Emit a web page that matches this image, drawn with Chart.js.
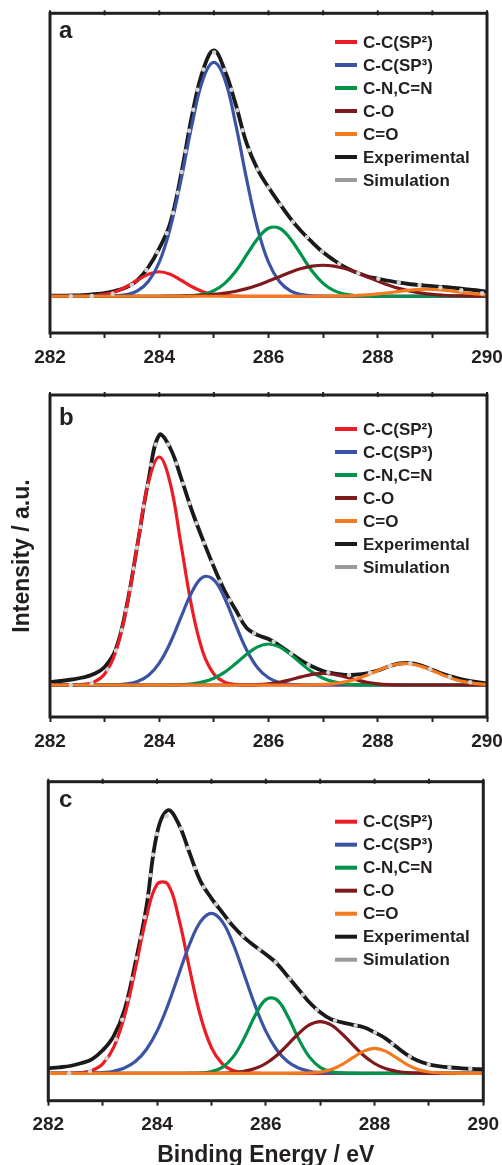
<!DOCTYPE html>
<html>
<head>
<meta charset="utf-8">
<script src="https://cdn.jsdelivr.net/npm/chart.js@4.4.0/dist/chart.umd.min.js"></script>
<style>
  html, body { margin: 0; padding: 0; background: #fff; overflow: hidden; }
  .panel { position: absolute; left: 0; width: 502px; }
</style>
</head>
<body>
<div class="panel" style="top:0;height:380px"><canvas id="chartA"></canvas></div>
<div class="panel" style="top:380px;height:380px"><canvas id="chartB"></canvas></div>
<div class="panel" style="top:760px;height:420px"><canvas id="chartC"></canvas></div>
<script>
// Binding energy (eV), shared by all three panels
const energy = [282.0, 282.2, 282.4, 282.6, 282.8, 283.0, 283.2, 283.4, 283.6, 283.8,
  284.0, 284.2, 284.4, 284.6, 284.8, 285.0, 285.2, 285.4, 285.6, 285.8,
  286.0, 286.2, 286.4, 286.6, 286.8, 287.0, 287.2, 287.4, 287.6, 287.8,
  288.0, 288.2, 288.4, 288.6, 288.8, 289.0, 289.2, 289.4, 289.6, 289.8, 290.0];

const xTicks = [282, 284, 286, 288, 290];
const xMinorTicks = [283, 285, 287, 289];

const seriesLabels = ['C-C(SP²)', 'C-C(SP³)', 'C-N,C=N', 'C-O', 'C=O', 'Experimental', 'Simulation'];

// Panel a (intensity, a.u.)
const aSP2 = [0, 0, 0, 0.1, 0.6, 1.8, 4.5, 9.5, 16, 22, 24.5, 22, 16, 9.5, 4.5, 1.8, 0.6, 0.1,
  0, 0, 0, 0, 0, 0, 0, 0, 0, 0, 0, 0, 0, 0, 0, 0, 0, 0, 0, 0, 0, 0, 0];
const aSP3 = [0, 0, 0, 0, 0, 0.1, 0.5, 1.7, 5.4, 14.7, 34, 68, 117, 172, 217, 234, 217, 172, 117, 68,
  34, 14.7, 5.4, 1.7, 0.5, 0.1, 0, 0, 0, 0, 0, 0, 0, 0, 0, 0, 0, 0, 0, 0, 0];
const aCN = [0, 0, 0, 0, 0, 0, 0, 0, 0, 0, 0, 0, 0.2, 0.6, 2.1, 5.6, 12.9, 25, 41.3, 57.6,
  68, 68, 57.6, 41.3, 25, 12.9, 5.6, 2.1, 0.6, 0.2, 0, 0, 0, 0, 0, 0, 0, 0, 0, 0, 0];
const aCO = [0, 0, 0, 0, 0, 0, 0, 0, 0, 0, 0, 0.1, 0.25, 0.5, 1.0, 1.8, 3.1, 5.0, 7.6, 11.1,
  15.2, 19.6, 24, 27.7, 30.1, 31, 30.1, 27.7, 24, 19.6, 15.2, 11.1, 7.6, 5.0, 3.1, 1.8, 1.0, 0.5, 0.25, 0.1, 0];
const aCdO = [0, 0, 0, 0, 0, 0, 0, 0, 0, 0, 0, 0, 0, 0, 0, 0, 0, 0, 0, 0,
  0, 0, 0, 0, 0, 0, 0.1, 0.3, 0.7, 1.3, 2.3, 3.5, 4.9, 6.2, 6.9, 6.9, 6.2, 4.9, 3.5, 2.3, 1.3];
const aExp = [0.5, 0.6, 0.8, 1.1, 2.0, 3.2, 5.5, 9, 16, 29, 48, 73, 122, 181, 226, 246, 226, 192, 153, 127,
  109, 93, 78, 65, 54, 44, 36, 29, 24, 20, 17.5, 15.5, 13.5, 12, 11, 10, 9.3, 8.3, 7.2, 6, 4.5];
const aSim = [0, 0, 0, 0, 0.3, 1, 3.5, 8, 16, 29, 48, 73, 122, 181, 226, 244, 226, 192, 153, 127,
  109, 93, 78, 65, 54, 44, 36, 29, 24, 20, 17.5, 15.5, 13.5, 12, 11, 9.5, 8.3, 7, 5.5, 3.8, 2.5];

// Panel b
const bSP2 = [0, 0, 0.1, 0.6, 2.9, 11, 32.8, 76.6, 140, 202, 228, 202, 140, 76.6, 32.8, 11, 2.9, 0.6, 0.1,
  0, 0, 0, 0, 0, 0, 0, 0, 0, 0, 0, 0, 0, 0, 0, 0, 0, 0, 0, 0, 0, 0];
const bSP3 = [0, 0, 0, 0, 0, 0, 0.3, 1.1, 3.5, 9.5, 21.8, 42, 68.1, 93.3, 107.9, 105.2, 86.5, 59.9, 35.1, 17.3,
  7.2, 2.5, 0.75, 0.2, 0, 0, 0, 0, 0, 0, 0, 0, 0, 0, 0, 0, 0, 0, 0, 0, 0];
const bCN = [0, 0, 0, 0, 0, 0, 0, 0, 0, 0, 0, 0.1, 0.4, 1.2, 3.1, 6.8, 12.9, 21.4, 30.7, 38.1,
  41, 38.1, 30.7, 21.4, 12.9, 6.8, 3.1, 1.2, 0.4, 0.1, 0, 0, 0, 0, 0, 0, 0, 0, 0, 0, 0];
const bCO = [0, 0, 0, 0, 0, 0, 0, 0, 0, 0, 0, 0, 0, 0, 0, 0, 0, 0, 0.1, 0.4,
  1.2, 2.7, 5.2, 8.1, 10.7, 11.7, 10.7, 8.1, 5.2, 2.7, 1.2, 0.4, 0.1, 0, 0, 0, 0, 0, 0, 0, 0];
const bCdO = [0, 0, 0, 0, 0, 0, 0, 0, 0, 0, 0, 0, 0, 0, 0, 0, 0, 0, 0, 0,
  0, 0, 0, 0, 0.2, 0.6, 1.4, 3.1, 5.8, 9.8, 14.4, 18.6, 21.2, 21.2, 18.6, 14.4, 9.8, 5.8, 3.1, 1.4, 0.6];
const bExp = [3, 4, 5.5, 7.5, 11, 18, 35, 78, 140, 204, 250, 237, 207, 174, 145, 118, 94, 75, 57, 50,
  46, 39.5, 32, 24.5, 18.5, 14, 11.5, 10, 10.3, 11.7, 14.5, 18.5, 21.5, 21.8, 19.5, 15.3, 11, 7.7, 5, 3, 1.7];
const bSim = [0, 0, 0.1, 0.6, 2.9, 11, 33, 77, 140, 204, 248, 237, 207, 174, 145, 118, 94, 75, 57, 50,
  46, 39.5, 32, 24.5, 18.5, 14, 11.5, 10, 10.3, 11.7, 14.5, 18.5, 21.5, 21.8, 19.5, 15.3, 11, 6.5, 3.6, 1.8, 0.8];

// Panel c
const cSP2 = [0, 0, 0.1, 0.7, 2.8, 9.4, 25.6, 57, 104, 155, 189, 189, 155, 104, 57, 25.6, 9.4, 2.8, 0.7, 0.1,
  0, 0, 0, 0, 0, 0, 0, 0, 0, 0, 0, 0, 0, 0, 0, 0, 0, 0, 0, 0, 0];
const cSP3 = [0, 0, 0, 0.1, 0.3, 0.8, 2.1, 5.3, 11.7, 23.5, 42.2, 68.2, 99, 129.3, 151.7, 160, 151.7, 129.3, 99, 68.2,
  42.2, 23.5, 11.7, 5.3, 2.1, 0.8, 0.3, 0.1, 0, 0, 0, 0, 0, 0, 0, 0, 0, 0, 0, 0, 0];
const cCN = [0, 0, 0, 0, 0, 0, 0, 0, 0, 0, 0, 0, 0, 0.1, 0.4, 1.7, 6.0, 16.4, 34.8, 57.4,
  73.7, 73.7, 57.4, 34.8, 16.4, 6.0, 1.7, 0.4, 0.1, 0, 0, 0, 0, 0, 0, 0, 0, 0, 0, 0, 0];
const cCO = [0, 0, 0, 0, 0, 0, 0, 0, 0, 0, 0, 0, 0, 0, 0, 0, 0.2, 0.7, 2.0, 4.7,
  9.8, 17.8, 28.4, 39.6, 48.4, 51.7, 48.4, 39.6, 28.4, 17.8, 9.8, 4.7, 2.0, 0.7, 0.2, 0, 0, 0, 0, 0, 0];
const cCdO = [0, 0, 0, 0, 0, 0, 0, 0, 0, 0, 0, 0, 0, 0, 0, 0, 0, 0, 0, 0,
  0, 0, 0, 0.1, 0.4, 1.3, 3.8, 8.7, 15.6, 22.2, 25, 22.2, 15.6, 8.7, 3.8, 1.3, 0.4, 0.1, 0, 0, 0];
const cExp = [5, 6, 7.3, 10, 14, 23, 37, 63, 110, 165, 240, 263, 249, 220, 192, 175, 161, 147, 136, 127,
  119, 110, 97, 84, 71, 61, 54, 51, 48.5, 46, 41, 35, 26.5, 18.5, 12.5, 9, 7, 5.8, 5, 4.4, 4];
const cSim = [0, 0, 0.1, 0.8, 3.1, 10.2, 27.7, 62.3, 112, 165, 240, 258, 249, 220, 192, 175, 161, 147, 136, 127,
  119, 110, 97, 84, 71, 61, 54, 51, 48.5, 46, 41, 35, 26.5, 18.5, 12.5, 9, 7, 5.8, 5, 4.4, 4];

const FONT = "'Liberation Sans', Arial, sans-serif";
const INK = '#231f20';
const compColors = ['#ed1c24', '#3a53a4', '#00934a', '#7f1a1c', '#f47a20'];

// frame, top ticks, panel letter and legend drawn over the plot
const panelDecor = {
  id: 'panelDecor',
  afterDatasetsDraw(chart, args, opts) {
    const { ctx, chartArea: a } = chart;
    const xs = chart.scales.x;
    ctx.save();
    ctx.strokeStyle = INK;
    ctx.lineWidth = 3;
    ctx.strokeRect(a.left, a.top, a.right - a.left, a.bottom - a.top);

    // small tick marks on the top edge
    ctx.lineWidth = 2;
    xTicks.concat(xMinorTicks).forEach(v => {
      const x = xs.getPixelForValue(v);
      ctx.beginPath();
      ctx.moveTo(x, a.top - 3);
      ctx.lineTo(x, a.top + 2);
      ctx.stroke();
    });

    ctx.fillStyle = INK;
    ctx.font = 'bold 24px ' + FONT;
    ctx.textBaseline = 'alphabetic';
    ctx.textAlign = 'left';
    ctx.fillText(opts.letter, 59, a.top + opts.letterDy);

    // legend, in the reference order
    ctx.font = 'bold 17px ' + FONT;
    ctx.textBaseline = 'middle';
    seriesLabels.forEach((label, i) => {
      const ds = chart.data.datasets.find(d => d.label === label);
      const y = a.top + opts.legendDy + i * 23;
      ctx.strokeStyle = ds.legendColor || ds.borderColor;
      ctx.lineWidth = 4;
      ctx.lineCap = 'butt';
      ctx.beginPath();
      ctx.moveTo(335, y);
      ctx.lineTo(357, y);
      ctx.stroke();
      ctx.fillStyle = INK;
      ctx.fillText(label, 363, y + 1);
    });
    ctx.restore();
  }
};

function initChart(p) {
  const comps = [p.sp2, p.sp3, p.cn, p.co, p.cdo];
  const datasets = comps.map((vals, i) => ({
    label: seriesLabels[i],
    data: vals,
    borderColor: compColors[i],
    borderWidth: 3.2,
    order: 5 - i
  }));
  datasets.push({
    label: 'Experimental',
    data: p.exp,
    borderColor: '#1a1a1a',
    borderWidth: 3.8,
    order: 6
  });
  datasets.push({
    label: 'Simulation',
    data: p.sim,
    borderColor: '#d2d2d2',
    legendColor: '#9a9a9a',
    borderWidth: 4.5,
    borderDash: [0, 21],
    borderCapStyle: 'round',
    order: 0
  });

  return new Chart(document.getElementById(p.id), {
    type: 'line',
    data: { labels: energy, datasets },
    plugins: [panelDecor],
    options: {
      responsive: true,
      maintainAspectRatio: false,
      animation: false,
      devicePixelRatio: 1,
      layout: { padding: { top: p.padTop, right: p.padRight, bottom: 0, left: 0 } },
      elements: {
        point: { radius: 0 },
        line: { tension: 0.4, fill: false }
      },
      plugins: {
        legend: { display: false },
        tooltip: { enabled: false },
        panelDecor: { letter: p.letter, letterDy: p.letterDy, legendDy: p.legendDy }
      },
      scales: {
        x: {
          type: 'linear',
          min: 282,
          max: 290,
          afterBuildTicks: s => { s.ticks = xTicks.concat(xMinorTicks).sort((m, n) => m - n).map(v => ({ value: v })); },
          afterFit: s => { s.height = p.xAxisH; s.paddingLeft = 0; s.paddingRight = 0; },
          ticks: {
            autoSkip: false,
            maxRotation: 0,
            padding: 8,
            color: INK,
            font: { size: 19, weight: 'bold', family: FONT },
            callback: v => (xTicks.includes(v) ? String(v) : '')
          },
          grid: { drawOnChartArea: false, drawTicks: true, tickLength: 5, tickWidth: 2, tickColor: INK },
          border: { display: false },
          title: {
            display: !!p.xTitle,
            text: p.xTitle || '',
            color: INK,
            font: { size: 23, weight: 'bold', family: FONT, lineHeight: 1.2 },
            padding: { top: 0, bottom: 11 }
          }
        },
        y: {
          min: p.yMin,
          max: p.yMax,
          afterFit: s => { s.width = p.yAxisW; },
          ticks: { display: false },
          grid: { display: false },
          border: { display: false },
          title: {
            display: !!p.yTitle,
            text: p.yTitle || '',
            color: INK,
            font: { size: 23, weight: 'bold', family: FONT, lineHeight: 1.2 },
            padding: { top: 9, bottom: 0 }
          }
        }
      }
    }
  });
}

initChart({ id: 'chartA', letter: 'a', sp2: aSP2, sp3: aSP3, cn: aCN, co: aCO, cdo: aCdO, exp: aExp, sim: aSim,
  yMin: -36.8, yMax: 283.2, padTop: 13.3, padRight: 15, xAxisH: 47, yAxisW: 50, letterDy: 25, legendDy: 28.7 });
initChart({ id: 'chartB', letter: 'b', sp2: bSP2, sp3: bSP3, cn: bCN, co: bCO, cdo: bCdO, exp: bExp, sim: bSim,
  yMin: -32, yMax: 290, padTop: 15, padRight: 15, xAxisH: 43, yAxisW: 50, letterDy: 30, legendDy: 34,
  yTitle: 'Intensity / a.u.' });
initChart({ id: 'chartC', letter: 'c', sp2: cSP2, sp3: cSP3, cn: cCN, co: cCO, cdo: cCdO, exp: cExp, sim: cSim,
  yMin: -27.4, yMax: 291.6, padTop: 21.7, padRight: 18.7, xAxisH: 79.3, yAxisW: 48.3, letterDy: 25, legendDy: 40,
  xTitle: 'Binding Energy / eV' });
</script>
</body>
</html>
